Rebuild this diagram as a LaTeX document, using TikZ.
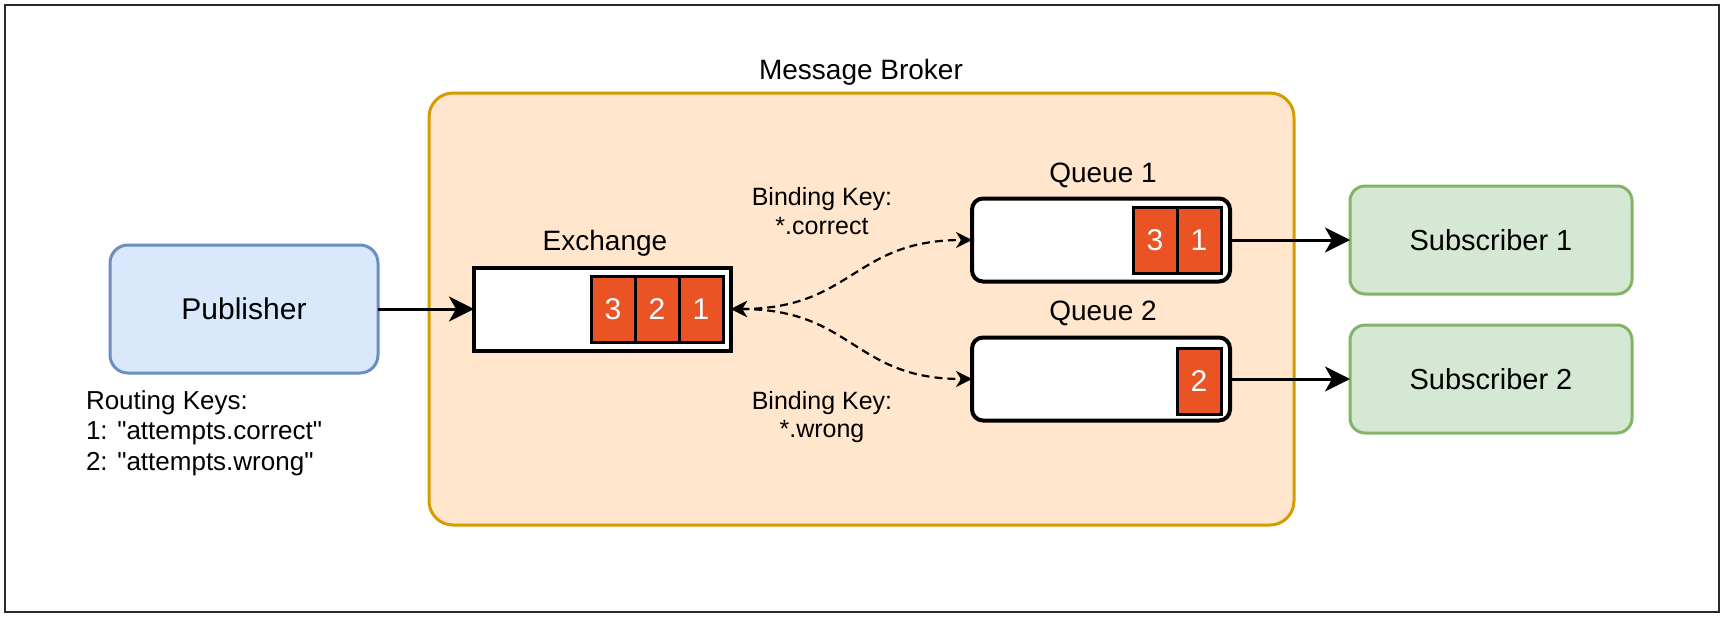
\documentclass[tikz,border=0pt]{standalone}
\usepackage{fontspec}
\setmainfont{Liberation Sans}[Ligatures=TeXOff]
\usetikzlibrary{arrows.meta}
\definecolor{pubfill}{HTML}{DAE8FC}
\definecolor{publine}{HTML}{6C8EBF}
\definecolor{brkfill}{HTML}{FFE6CC}
\definecolor{brkline}{HTML}{D79B00}
\definecolor{subfill}{HTML}{D5E8D4}
\definecolor{subline}{HTML}{82B366}
\definecolor{cellred}{HTML}{EA5323}
\definecolor{frameline}{HTML}{2A2A2A}
\begin{document}
\begin{tikzpicture}[x=1pt,y=-1pt,
  every node/.style={inner sep=0pt, outer sep=0pt},
  pubbox/.style={draw=publine, fill=pubfill, line width=3pt, rounded corners=18pt,
    minimum width=268pt, minimum height=128pt, font=\fontsize{30}{34}\selectfont},
  subbox/.style={draw=subline, fill=subfill, line width=3pt, rounded corners=15pt,
    minimum width=282pt, minimum height=108pt, font=\fontsize{29}{33}\selectfont},
  brokerbox/.style={draw=brkline, fill=brkfill, line width=3pt, rounded corners=24pt,
    minimum width=865pt, minimum height=432pt},
  exchbox/.style={draw=black, fill=white, line width=4pt,
    minimum width=257pt, minimum height=83pt},
  queuebox/.style={draw=black, fill=white, line width=4pt, rounded corners=11pt,
    minimum width=258pt, minimum height=83pt},
  cellbox/.style={draw=black, fill=cellred, line width=3pt, text=white,
    minimum width=44pt, minimum height=66pt, font=\fontsize{30}{34}\selectfont},
  title/.style={font=\fontsize{28}{32}\selectfont},
  keytext/.style={font=\fontsize{25}{28.5}\selectfont, align=center},
  solidarrow/.style={line width=3pt, -{Stealth[length=25pt, width=25pt, inset=7pt]}},
  dasharrow/.style={line width=2.2pt, dash pattern=on 8pt off 5pt,
    {Stealth[length=16pt, width=16pt, inset=5pt]}-{Stealth[length=16pt, width=16pt, inset=5pt]}}
]
\useasboundingbox (0,0) rectangle (1725,619);
\draw[frameline, line width=2.5pt] (5,5) rectangle (1719,612);

% broker
\node[brokerbox] (broker) at (861.5,309) {};
\node[title] (brokerlbl) at (861,72) {Message Broker};

% publisher
\node[pubbox] (pub) at (244,309) {Publisher};
\node[anchor=west, align=left, font=\fontsize{26}{30.5}\selectfont] (routing) at (86,433)
  {Routing Keys:\\1: "attempts.correct"\\2: "attempts.wrong"};

% exchange
\node[exchbox] (exch) at (602.5,309) {};
\node[title] (exchlbl) at (605,243) {Exchange};
\node[cellbox] (e3) at (613,309) {3};
\node[cellbox] (e2) at (657,309) {2};
\node[cellbox] (e1) at (701,309) {1};

% queues
\node[queuebox] (q1) at (1101,240) {};
\node[title] (q1lbl) at (1103,175) {Queue 1};
\node[cellbox] (q13) at (1155,240) {3};
\node[cellbox] (q11) at (1199,240) {1};

\node[queuebox] (q2) at (1101,379) {};
\node[title] (q2lbl) at (1103,313) {Queue 2};
\node[cellbox] (q22) at (1199,381) {2};

% subscribers
\node[subbox] (s1) at (1491,240) {Subscriber 1};
\node[subbox] (s2) at (1491,379) {Subscriber 2};

% binding key labels
\node[keytext] (bk1) at (822,211) {Binding Key:\\*.correct};
\node[keytext] (bk2) at (822,417) {Binding Key:\\*.wrong};

% connectors
\draw[solidarrow] (pub.east) -- (exch.west);
\draw[solidarrow] (q1.east) -- (s1.west);
\draw[solidarrow] (q2.east) -- (s2.west);
\draw[dasharrow] (exch.east) .. controls (853,309) and (853,240) .. (q1.west);
\draw[dasharrow] (exch.east) .. controls (853,309) and (853,379) .. (q2.west);
\end{tikzpicture}
\end{document}
